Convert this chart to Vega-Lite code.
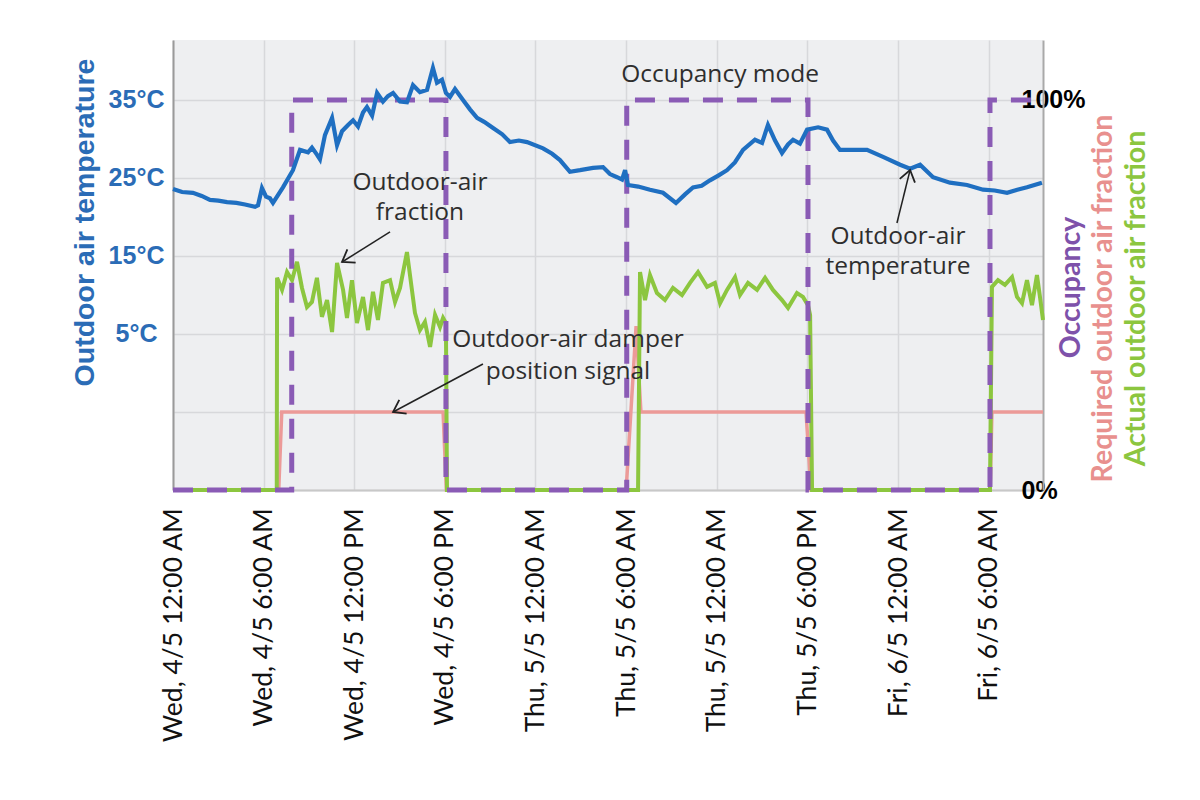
{
  "$schema": "https://vega.github.io/schema/vega-lite/v6.json",
  "width": 870,
  "height": 450,
  "autosize": {"type": "none"},
  "padding": {"left": 173, "top": 40, "right": 157, "bottom": 310},
  "background": "white",
  "config": {
    "view": {"fill": "#eeeff1", "stroke": null},
    "axis": {"ticks": false, "tickSize": 0}
  },
  "datasets": {
    "temp": [
      {"h": 0.0, "t": 23.6}, {"h": 0.6, "t": 23.2}, {"h": 1.32, "t": 23.1}, {"h": 1.9, "t": 22.7}, {"h": 2.45, "t": 22.2}, {"h": 3.0, "t": 22.1}, {"h": 3.58, "t": 21.9},
      {"h": 4.2, "t": 21.8}, {"h": 4.77, "t": 21.6}, {"h": 5.43, "t": 21.3}, {"h": 5.63, "t": 21.5}, {"h": 5.89, "t": 23.7},
      {"h": 6.16, "t": 22.6}, {"h": 6.42, "t": 22.4}, {"h": 6.62, "t": 21.8}, {"h": 7.28, "t": 23.8},
      {"h": 7.94, "t": 26.0}, {"h": 8.41, "t": 28.6}, {"h": 8.94, "t": 28.3}, {"h": 9.2, "t": 28.9}, {"h": 9.53, "t": 28.0},
      {"h": 9.73, "t": 27.4}, {"h": 10.06, "t": 30.5}, {"h": 10.53, "t": 32.7}, {"h": 10.86, "t": 29.2},
      {"h": 11.19, "t": 31.0}, {"h": 11.59, "t": 31.8}, {"h": 11.92, "t": 32.4}, {"h": 12.25, "t": 31.6},
      {"h": 12.58, "t": 33.4}, {"h": 12.84, "t": 34.1}, {"h": 13.18, "t": 33.0}, {"h": 13.51, "t": 35.9},
      {"h": 13.9, "t": 34.8}, {"h": 14.23, "t": 35.5}, {"h": 14.57, "t": 35.9}, {"h": 15.03, "t": 34.8},
      {"h": 15.49, "t": 34.7}, {"h": 15.89, "t": 36.9}, {"h": 16.35, "t": 36.0}, {"h": 16.82, "t": 36.3},
      {"h": 17.21, "t": 39.1}, {"h": 17.48, "t": 37.2}, {"h": 17.81, "t": 37.6}, {"h": 18.07, "t": 35.9},
      {"h": 18.34, "t": 35.4}, {"h": 18.67, "t": 36.4}, {"h": 19.2, "t": 35.0}, {"h": 19.66, "t": 33.8},
      {"h": 20.13, "t": 32.7}, {"h": 20.6, "t": 32.2}, {"h": 21.19, "t": 31.4}, {"h": 21.8, "t": 30.6}, {"h": 22.31, "t": 29.6}, {"h": 22.9, "t": 29.8}, {"h": 23.44, "t": 29.6},
      {"h": 24.5, "t": 28.8}, {"h": 25.1, "t": 28.1}, {"h": 25.62, "t": 27.3}, {"h": 26.28, "t": 25.8}, {"h": 26.95, "t": 26.0},
      {"h": 27.81, "t": 26.3}, {"h": 28.47, "t": 26.4}, {"h": 28.93, "t": 25.5}, {"h": 29.4, "t": 25.1},
      {"h": 29.73, "t": 24.8}, {"h": 29.93, "t": 26.0}, {"h": 30.12, "t": 24.1}, {"h": 30.8, "t": 23.9}, {"h": 31.58, "t": 23.5},
      {"h": 32.44, "t": 23.1}, {"h": 33.3, "t": 21.8}, {"h": 33.9, "t": 22.9}, {"h": 34.43, "t": 23.8}, {"h": 35.0, "t": 24.0}, {"h": 35.55, "t": 24.7},
      {"h": 36.1, "t": 25.3}, {"h": 36.68, "t": 26.0}, {"h": 37.2, "t": 27.0}, {"h": 37.74, "t": 28.6}, {"h": 38.53, "t": 29.9}, {"h": 39.0, "t": 29.5},
      {"h": 39.39, "t": 31.8}, {"h": 39.86, "t": 29.8}, {"h": 40.32, "t": 28.2}, {"h": 40.72, "t": 29.3},
      {"h": 41.05, "t": 29.9}, {"h": 41.51, "t": 29.4}, {"h": 41.98, "t": 31.2}, {"h": 42.71, "t": 31.5},
      {"h": 43.3, "t": 31.2}, {"h": 43.7, "t": 29.8}, {"h": 44.16, "t": 28.6}, {"h": 45.02, "t": 28.6}, {"h": 45.95, "t": 28.6},
      {"h": 47.01, "t": 27.7}, {"h": 48.14, "t": 26.7}, {"h": 48.8, "t": 26.2}, {"h": 49.46, "t": 26.7},
      {"h": 50.32, "t": 25.1}, {"h": 51.44, "t": 24.4}, {"h": 52.57, "t": 24.1}, {"h": 53.63, "t": 23.5},
      {"h": 54.4, "t": 23.4}, {"h": 55.22, "t": 23.1}, {"h": 55.9, "t": 23.5}, {"h": 56.54, "t": 23.8}, {"h": 57.53, "t": 24.4}
    ],
    "occ": [
      {"h": 0, "v": 0}, {"h": 7.86, "v": 1}, {"h": 18.07, "v": 0}, {"h": 30.04, "v": 1},
      {"h": 42.04, "v": 0}, {"h": 54.09, "v": 1}, {"h": 57.6, "v": 1}
    ],
    "req": [
      {"h": 0, "v": 0}, {"h": 7.0, "v": 0}, {"h": 7.2, "v": 0.2}, {"h": 17.88, "v": 0.2}, {"h": 18.1, "v": 0},
      {"h": 30.0, "v": 0}, {"h": 30.66, "v": 0.42}, {"h": 30.98, "v": 0.2}, {"h": 41.91, "v": 0.2}, {"h": 42.24, "v": 0},
      {"h": 54.1, "v": 0}, {"h": 54.22, "v": 0.2}, {"h": 57.6, "v": 0.2}
    ],
    "act": [
      {"h": 0, "v": 0}, {"h": 6.87, "v": 0}, {"h": 6.89, "v": 0.544}, {"h": 7.22, "v": 0.513},
      {"h": 7.55, "v": 0.559}, {"h": 7.88, "v": 0.538}, {"h": 8.21, "v": 0.585}, {"h": 8.54, "v": 0.518},
      {"h": 8.87, "v": 0.469}, {"h": 9.2, "v": 0.482}, {"h": 9.53, "v": 0.544}, {"h": 9.86, "v": 0.444},
      {"h": 10.2, "v": 0.487}, {"h": 10.53, "v": 0.405}, {"h": 10.86, "v": 0.582}, {"h": 11.26, "v": 0.513},
      {"h": 11.52, "v": 0.441}, {"h": 11.85, "v": 0.538}, {"h": 12.18, "v": 0.428}, {"h": 12.58, "v": 0.495},
      {"h": 12.91, "v": 0.41}, {"h": 13.24, "v": 0.508}, {"h": 13.57, "v": 0.436}, {"h": 13.9, "v": 0.531},
      {"h": 14.37, "v": 0.538}, {"h": 14.7, "v": 0.482}, {"h": 15.03, "v": 0.518}, {"h": 15.49, "v": 0.61},
      {"h": 15.82, "v": 0.513}, {"h": 16.02, "v": 0.454}, {"h": 16.35, "v": 0.41}, {"h": 16.68, "v": 0.431},
      {"h": 17.02, "v": 0.367}, {"h": 17.35, "v": 0.449}, {"h": 17.68, "v": 0.418}, {"h": 17.88, "v": 0.441},
      {"h": 18.07, "v": 0.428}, {"h": 18.14, "v": 0},
      {"h": 30.79, "v": 0}, {"h": 30.92, "v": 0.559}, {"h": 31.25, "v": 0.487}, {"h": 31.58, "v": 0.551},
      {"h": 32.04, "v": 0.505}, {"h": 32.57, "v": 0.487}, {"h": 33.1, "v": 0.518}, {"h": 33.7, "v": 0.5},
      {"h": 34.23, "v": 0.531}, {"h": 34.76, "v": 0.559}, {"h": 35.36, "v": 0.521}, {"h": 35.88, "v": 0.531},
      {"h": 36.22, "v": 0.479}, {"h": 36.68, "v": 0.513}, {"h": 37.21, "v": 0.546}, {"h": 37.54, "v": 0.5},
      {"h": 38.07, "v": 0.531}, {"h": 38.67, "v": 0.513}, {"h": 39.2, "v": 0.544}, {"h": 39.72, "v": 0.513},
      {"h": 40.32, "v": 0.487}, {"h": 40.72, "v": 0.467}, {"h": 41.31, "v": 0.505}, {"h": 41.71, "v": 0.495},
      {"h": 42.04, "v": 0.474}, {"h": 42.18, "v": 0.449}, {"h": 42.31, "v": 0},
      {"h": 54.09, "v": 0}, {"h": 54.22, "v": 0.521}, {"h": 54.62, "v": 0.538}, {"h": 55.08, "v": 0.526},
      {"h": 55.55, "v": 0.546}, {"h": 55.88, "v": 0.495}, {"h": 56.21, "v": 0.479}, {"h": 56.54, "v": 0.538},
      {"h": 56.87, "v": 0.474}, {"h": 57.2, "v": 0.551}, {"h": 57.4, "v": 0.495}, {"h": 57.6, "v": 0.436}
    ],
    "notes": [
      {"h": 36.22, "t": 38.2, "label": "Occupancy mode"},
      {"h": 16.35, "t": 24.36, "label": "Outdoor-air"},
      {"h": 16.35, "t": 20.51, "label": "fraction"},
      {"h": 26.15, "t": 4.23, "label": "Outdoor-air damper"},
      {"h": 26.15, "t": 0.13, "label": "position signal"},
      {"h": 48.0, "t": 17.44, "label": "Outdoor-air"},
      {"h": 48.0, "t": 13.59, "label": "temperature"}
    ],
    "arrows": [
      {"h": 14.37, "t": 18.08, "h2": 11.19, "t2": 14.23},
      {"h": 20.52, "t": 1.15, "h2": 14.57, "t2": -5.0},
      {"h": 47.93, "t": 19.23, "h2": 48.8, "t2": 26.03}
    ]
  },
  "encoding": {
    "x": {
      "field": "h",
      "type": "quantitative",
      "scale": {"domain": [0, 57.6], "nice": false, "zero": false},
      "axis": {
        "values": [0, 6, 12, 18, 24, 30, 36, 42, 48, 54],
        "labelExpr": "['Wed, 4/5 12:00 AM', 'Wed, 4/5 6:00 AM', 'Wed, 4/5 12:00 PM', 'Wed, 4/5 6:00 PM', 'Thu, 5/5 12:00 AM', 'Thu, 5/5 6:00 AM', 'Thu, 5/5 12:00 AM', 'Thu, 5/5 6:00 PM', 'Fri, 6/5 12:00 AM', 'Fri, 6/5 6:00 AM'][round(datum.value / 6)]",
        "labelAngle": -90,
        "labelAlign": "right",
        "labelBaseline": "middle",
        "labelPadding": 18,
        "labelFont": "Lato",
        "labelFontSize": 26.5,
        "labelLimit": 0,
        "labelColor": "#111111",
        "labelFlush": false,
        "labelOverlap": false,
        "grid": true,
        "gridColor": "#d7d8db",
        "gridWidth": 1.5,
        "domain": true,
        "domainColor": "#c8c8c8",
        "domainWidth": 2,
        "ticks": false,
        "title": null
      }
    }
  },
  "layer": [
    {
      "data": {"name": "req"},
      "mark": {"type": "line", "color": "#ec9a98", "strokeWidth": 3.5},
      "encoding": {
        "y": {
          "field": "v", "type": "quantitative",
          "scale": {"domain": [0, 1.1538], "nice": false, "zero": false},
          "axis": {
            "orient": "right", "title": "Required outdoor air fraction",
            "titleColor": "#e8908e", "titleFont": "Lato", "titleFontSize": 28.5, "titleFontWeight": "bold",
            "titleAngle": -90, "titleX": 59, "titleY": 258, "titleAlign": "center", "titleBaseline": "middle",
            "labels": false, "domain": false, "ticks": false, "grid": false
          }
        }
      }
    },
    {
      "data": {"name": "act"},
      "mark": {"type": "line", "color": "#8cc63f", "strokeWidth": 4},
      "encoding": {
        "y": {
          "field": "v", "type": "quantitative",
          "scale": {"domain": [0, 1.1538], "nice": false, "zero": false},
          "axis": {
            "orient": "right", "title": "Actual outdoor air fraction",
            "titleColor": "#8cc63f", "titleFont": "Lato", "titleFontSize": 28.5, "titleFontWeight": "bold",
            "titleAngle": -90, "titleX": 92, "titleY": 258, "titleAlign": "center", "titleBaseline": "middle",
            "labels": false, "domain": false, "ticks": false, "grid": false
          }
        }
      }
    },
    {
      "data": {"name": "occ"},
      "mark": {"type": "line", "color": "#8a5bb5", "strokeWidth": 5, "strokeDash": [20, 14], "interpolate": "step-after"},
      "encoding": {
        "y": {
          "field": "v", "type": "quantitative",
          "scale": {"domain": [0, 1.1538], "nice": false, "zero": false},
          "axis": {
            "orient": "right", "values": [0, 1],
            "labelExpr": "datum.value == 0 ? '0%' : '100%'",
            "labelAlign": "left", "labelBaseline": "middle", "labelPadding": -22,
            "labelFont": "Liberation Sans", "labelFontWeight": "bold", "labelFontSize": 25, "labelColor": "#000000",
            "labelOverlap": false, "labelFlush": false,
            "domain": true, "domainColor": "#a9a9a9", "domainWidth": 2,
            "ticks": false, "grid": false,
            "title": "Occupancy",
            "titleColor": "#7e52aa", "titleFont": "Lato", "titleFontSize": 28.5, "titleFontWeight": "bold",
            "titleAngle": -90, "titleX": 27, "titleY": 247, "titleAlign": "center", "titleBaseline": "middle"
          }
        }
      }
    },
    {
      "data": {"name": "temp"},
      "mark": {"type": "line", "color": "#1f6fc1", "strokeWidth": 4.2},
      "encoding": {
        "y": {
          "field": "t", "type": "quantitative",
          "scale": {"domain": [-15, 42.69], "nice": false, "zero": false},
          "axis": {
            "orient": "left",
            "values": [-15, -5, 5, 15, 25, 35],
            "labelExpr": "datum.value >= 5 ? datum.value + '°C' : ''",
            "labelFont": "Liberation Sans", "labelFontWeight": "bold", "labelFontSize": 25,
            "labelColor": "#2b6cb6", "labelAlign": "center", "labelBaseline": "middle", "labelPadding": 37,
            "labelOverlap": false, "labelFlush": false,
            "grid": true, "gridColor": "#d7d8db", "gridWidth": 1.5,
            "domain": true, "domainColor": "#9a9a9a", "domainWidth": 2,
            "ticks": false,
            "title": "Outdoor air temperature",
            "titleFont": "Liberation Sans", "titleFontSize": 28.5, "titleFontWeight": "bold",
            "titleColor": "#2b6cb6", "titleAngle": -90, "titleX": -89, "titleY": 182,
            "titleAlign": "center", "titleBaseline": "middle"
          }
        }
      }
    },
    {
      "data": {"name": "arrows"},
      "mark": {"type": "rule", "color": "#222222", "strokeWidth": 1.5},
      "encoding": {
        "x2": {"field": "h2"},
        "y": {"field": "t", "type": "quantitative", "scale": {"domain": [-15, 42.69], "nice": false, "zero": false}, "axis": null},
        "y2": {"field": "t2"}
      }
    },
    {
      "data": {"values": [{"h": 11.19, "t": 14.23}]},
      "mark": {"type": "point", "shape": "M-1,-0.7L0,0L-1,0.7", "filled": false, "stroke": "#222222", "strokeWidth": 1.8, "size": 500, "angle": 148, "opacity": 1},
      "encoding": {"y": {"field": "t", "type": "quantitative", "scale": {"domain": [-15, 42.69], "nice": false, "zero": false}, "axis": null}}
    },
    {
      "data": {"values": [{"h": 14.57, "t": -5.0}]},
      "mark": {"type": "point", "shape": "M-1,-0.7L0,0L-1,0.7", "filled": false, "stroke": "#222222", "strokeWidth": 1.8, "size": 500, "angle": 152, "opacity": 1},
      "encoding": {"y": {"field": "t", "type": "quantitative", "scale": {"domain": [-15, 42.69], "nice": false, "zero": false}, "axis": null}}
    },
    {
      "data": {"values": [{"h": 48.8, "t": 26.03}]},
      "mark": {"type": "point", "shape": "M-1,-0.7L0,0L-1,0.7", "filled": false, "stroke": "#222222", "strokeWidth": 1.8, "size": 500, "angle": -76, "opacity": 1},
      "encoding": {"y": {"field": "t", "type": "quantitative", "scale": {"domain": [-15, 42.69], "nice": false, "zero": false}, "axis": null}}
    },
    {
      "data": {"name": "notes"},
      "mark": {"type": "text", "font": "Open Sans", "fontSize": 24.5, "color": "#2e2e2e", "align": "center", "baseline": "middle"},
      "encoding": {
        "y": {"field": "t", "type": "quantitative", "scale": {"domain": [-15, 42.69], "nice": false, "zero": false}, "axis": null},
        "text": {"field": "label"}
      }
    }
  ],
  "resolve": {"scale": {"y": "independent"}, "axis": {"y": "independent"}}
}
